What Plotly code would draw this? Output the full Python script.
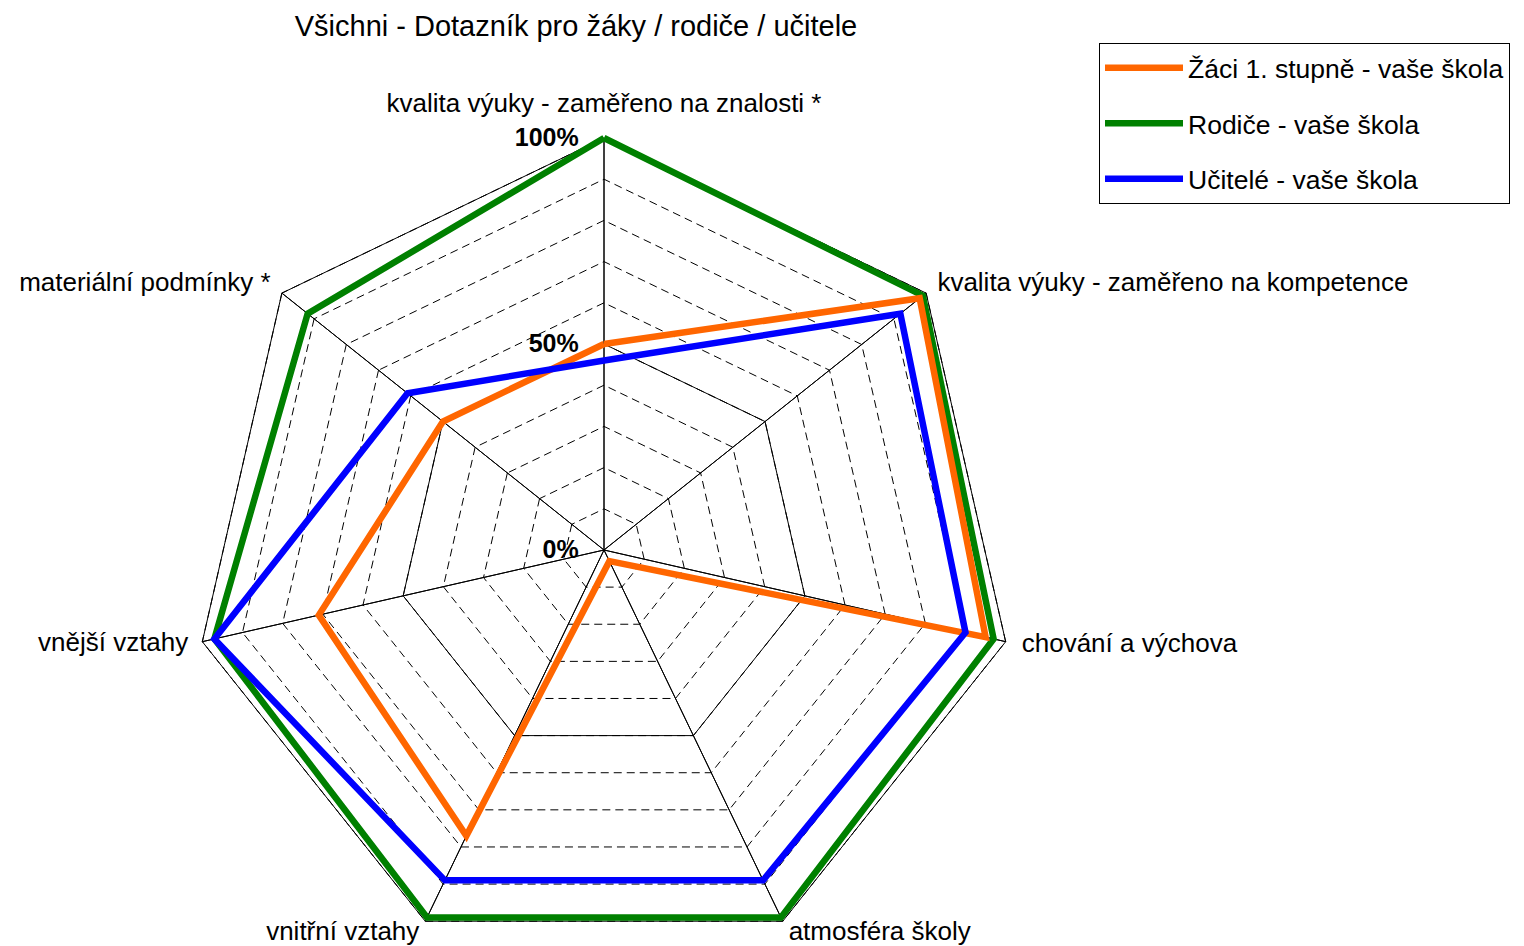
import plotly.graph_objects as go

# Survey areas (clockwise from the top)
categories = [
    "kvalita výuky - zaměřeno na znalosti *",
    "kvalita výuky - zaměřeno na kompetence",
    "chování a výchova",
    "atmosféra školy",
    "vnitřní vztahy",
    "vnější vztahy",
    "materiální podmínky *",
]

# Share of positive answers (%) per respondent group
zaci = [50, 98, 95, 3, 77, 71, 50]
rodice = [100, 99, 97, 99, 99, 97, 92]
ucitele = [46, 92, 90, 89, 89, 97, 61]

series_names = [
    "Žáci 1. stupně - vaše škola",
    "Rodiče - vaše škola",
    "Učitelé - vaše škola",
]

radial_ticks = [0, 10, 20, 30, 40, 50, 60, 70, 80, 90, 100]
radial_labels = ["0%", "", "", "", "", "50%", "", "", "", "", "100%"]

title_text = "Všichni - Dotazník pro žáky / rodiče / učitele"

# ---- layout geometry (pixels) ----
W, H = 1524, 1000
CX, CY, R = 604, 550, 412          # centre and pixel radius of the 100 % ring
RMAX = 107                          # radial range leaves room for the captions
RPIX = R * RMAX / 100
FONT = "Liberation Sans, Arial, sans-serif"

COLORS = {"zaci": "#FF6600", "rodice": "#008000", "ucitele": "#0000FF"}

# category captions sit just outside the outer ring
LABEL_R = [104.8, 103.5, 104, 103.3, 103.3, 103.5, 103.5]
LABEL_POS = ["top center", "middle right", "middle right", "middle right",
             "middle left", "middle left", "middle left"]


def closed(vals):
    return list(vals) + [vals[0]]


theta = closed(categories)
n = len(categories)

fig = go.Figure()

# spokes from the centre to each outer vertex
spoke_r, spoke_t = [], []
for c in categories:
    spoke_r += [0, 100, 0]
    spoke_t += [c, c, c]
fig.add_trace(go.Scatterpolar(
    r=spoke_r, theta=spoke_t, mode="lines",
    line=dict(color="black", width=1), showlegend=False, hoverinfo="skip",
))

# solid rings at the 50 % and 100 % levels
for level in (radial_ticks[5], radial_ticks[-1]):
    fig.add_trace(go.Scatterpolar(
        r=closed([level] * n), theta=theta,
        mode="lines", line=dict(color="black", width=1),
        showlegend=False, hoverinfo="skip",
    ))

# series: parents underneath, pupils, then teachers on top
fig.add_trace(go.Scatterpolar(
    r=closed(rodice), theta=theta, name=series_names[1], mode="lines",
    line=dict(color=COLORS["rodice"], width=6.5), legendrank=2, legendgroup="b",
))
fig.add_trace(go.Scatterpolar(
    r=closed(zaci), theta=theta, name=series_names[0], mode="lines",
    line=dict(color=COLORS["zaci"], width=6.5), legendrank=1, legendgroup="a",
))
fig.add_trace(go.Scatterpolar(
    r=closed(ucitele), theta=theta, name=series_names[2], mode="lines",
    line=dict(color=COLORS["ucitele"], width=6.5), legendrank=3, legendgroup="c",
))

# category captions
fig.add_trace(go.Scatterpolar(
    r=LABEL_R, theta=categories, text=categories,
    mode="text", textposition=LABEL_POS,
    textfont=dict(family=FONT, size=26, color="black"),
    cliponaxis=False, showlegend=False, hoverinfo="skip",
))

fig.update_layout(
    width=W, height=H,
    margin=dict(l=0, r=0, t=0, b=0, autoexpand=False),
    paper_bgcolor="white",
    font=dict(family=FONT, size=26, color="black"),
    title=dict(
        text=title_text, x=576 / W, xanchor="center",
        y=1 - 26 / H, yanchor="middle",
        font=dict(family=FONT, size=29, color="black"),
    ),
    polar=dict(
        domain=dict(x=[(CX - RPIX) / W, (CX + RPIX) / W],
                    y=[1 - (CY + RPIX) / H, 1 - (CY - RPIX) / H]),
        bgcolor="white",
        gridshape="linear",
        radialaxis=dict(
            range=[0, RMAX], angle=90, tickangle=90, side="counterclockwise",
            tickvals=radial_ticks, ticktext=radial_labels,
            tickfont=dict(family=FONT, size=25, color="black", weight="bold"),
            ticks="outside", ticklen=16, tickcolor="rgba(0,0,0,0)",
            showline=False, gridcolor="black", gridwidth=1, griddash="8px,5px",
        ),
        angularaxis=dict(
            type="category", categoryarray=categories,
            direction="clockwise", rotation=90,
            showline=False, showgrid=False,
            ticks="", showticklabels=False,
        ),
    ),
    legend=dict(
        x=1099 / W, y=1 - 43 / H, xanchor="left", yanchor="top",
        bordercolor="black", borderwidth=1, bgcolor="white",
        font=dict(family=FONT, size=26.5, color="black"),
        itemwidth=78, tracegroupgap=18, traceorder="grouped",
    ),
    showlegend=True,
)

fig.write_html(
    "out.html",
    post_script="document.documentElement.style.overflow='hidden';"
                "document.body.style.overflow='hidden';document.body.style.margin='0';",
)
